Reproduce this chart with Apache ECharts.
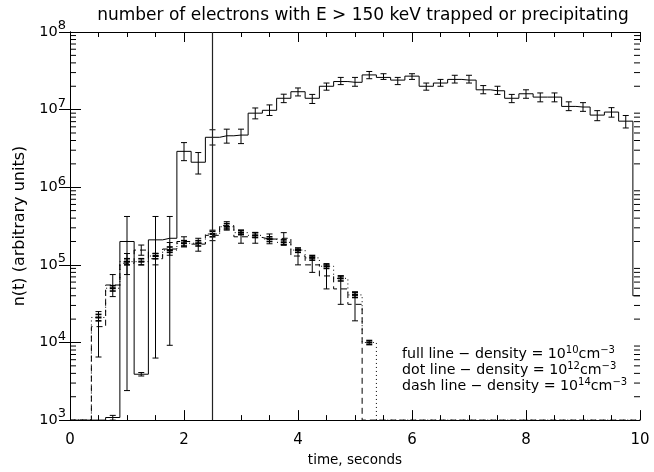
<!DOCTYPE html>
<html><head><meta charset="utf-8">
<script src="https://cdn.jsdelivr.net/npm/echarts@6/dist/echarts.min.js"></script>
<style>html,body{margin:0;padding:0;background:#fff}#c{width:654px;height:472px}</style>
</head><body><div id="c"></div>
<script>
// ---- data ----
const times = [0,0.25,0.5,0.75,1,1.25,1.5,1.75,2,2.25,2.5,2.75,3,3.25,3.5,3.75,4,4.25,4.5,4.75,5,5.25,5.5,5.75,6,6.25,6.5,6.75,7,7.25,7.5,7.75,8,8.25,8.5,8.75,9,9.25,9.5,9.75,10];
const fullValues = [1000,1000,1000,1080,2.0e5,3.9e3,2.1e5,2.2e5,2.9e6,2.1e6,4.4e6,4.6e6,4.7e6,9.0e6,9.8e6,1.4e7,1.7e7,1.4e7,2.0e7,2.3e7,2.25e7,2.8e7,2.6e7,2.4e7,2.7e7,2.0e7,2.2e7,2.45e7,2.4e7,1.8e7,1.75e7,1.4e7,1.6e7,1.45e7,1.45e7,1.1e7,1.08e7,8.5e6,9.3e6,7.1e6,4.0e4];
const fullErrLow  = [null,null,null,1000,2.4e3,3.7e3,6.3e3,9.2e3,2.2e6,1.48e6,3.5e6,3.7e6,3.65e6,7.6e6,8.4e6,1.23e7,1.5e7,1.2e7,1.78e7,2.1e7,2.0e7,2.5e7,2.45e7,2.1e7,2.45e7,1.78e7,2.0e7,2.2e7,2.2e7,1.6e7,1.57e7,1.23e7,1.4e7,1.26e7,1.26e7,9.7e6,9.5e6,7.2e6,8.0e6,5.8e6,null];
const fullErrHigh = [null,null,null,1150,4.2e5,4.1e3,4.2e5,4.2e5,3.76e6,2.8e6,5.5e6,5.6e6,5.6e6,1.05e7,1.15e7,1.58e7,1.9e7,1.57e7,2.2e7,2.6e7,2.6e7,3.1e7,2.9e7,2.6e7,2.9e7,2.2e7,2.45e7,2.77e7,2.77e7,2.04e7,2.0e7,1.57e7,1.8e7,1.64e7,1.64e7,1.26e7,1.23e7,9.7e6,1.06e7,8.4e6,null];

const dotValues = [1000,1000,2.1e4,5.0e4,1.1e5,1.1e5,1.3e5,1.55e5,1.9e5,1.9e5,2.5e5,3.1e5,2.6e5,2.4e5,2.15e5,1.95e5,1.55e5,1.23e5,9.6e4,6.7e4,4.1e4,1.0e4,1000,1000,1000,1000,1000,1000,1000,1000,1000,1000,1000,1000,1000,1000,1000,1000,1000,1000,1000];
const dotErrLow  = [null,null,1.9e4,4.6e4,1.0e5,1.0e5,1.2e5,1.45e5,1.75e5,1.75e5,2.3e5,2.9e5,2.45e5,2.25e5,2.0e5,1.8e5,1.45e5,1.15e5,9.0e4,6.2e4,3.8e4,9.4e3,null,null,null,null,null,null,null,null,null,null,null,null,null,null,null,null,null,null,null];
const dotErrHigh = [null,null,2.3e4,5.4e4,1.2e5,1.2e5,1.4e5,1.7e5,2.05e5,2.05e5,2.7e5,3.4e5,2.8e5,2.6e5,2.3e5,2.1e5,1.65e5,1.32e5,1.03e5,7.2e4,4.4e4,1.06e4,null,null,null,null,null,null,null,null,null,null,null,null,null,null,null,null,null,null,null];

const dashValues = [1000,1000,1.6e4,5.5e4,1.05e5,1.55e5,1.2e5,1.6e5,2.0e5,1.85e5,2.4e5,3.2e5,2.3e5,2.25e5,2.15e5,2.2e5,1.3e5,1.0e5,7.2e4,4.9e4,3.1e4,1000,1000,1000,1000,1000,1000,1000,1000,1000,1000,1000,1000,1000,1000,1000,1000,1000,1000,1000,1000];
const dashErrLow  = [null,null,6.5e3,3.9e4,7.5e4,1.33e5,1.0e5,1.33e5,1.7e5,1.5e5,2.05e5,2.8e5,1.9e5,1.9e5,1.87e5,1.83e5,1.0e5,8.0e4,4.9e4,3.1e4,1.9e4,null,null,null,null,null,null,null,null,null,null,null,null,null,null,null,null,null,null,null,null];
const dashErrHigh = [null,null,2.5e4,7.5e4,1.4e5,1.8e5,1.4e5,1.94e5,2.3e5,2.2e5,2.8e5,3.6e5,2.75e5,2.6e5,2.5e5,2.6e5,1.57e5,1.27e5,1.0e5,7.2e4,4.5e4,null,null,null,null,null,null,null,null,null,null,null,null,null,null,null,null,null,null,null,null];

const markerTime = 2.5;
const yMin = 1e3, yMax = 1e8;
const xMin = 0, xMax = 10, xStep = 2;
const titleText = 'number of electrons with E > 150 keV trapped or precipitating';
const xName = 'time, seconds';
const yName = 'n(t) (arbitrary units)';
const legendLines = [
  ['full line − density = 10', '10', 'cm', '−3'],
  ['dot line − density = 10', '12', 'cm', '−3'],
  ['dash line − density = 10', '14', 'cm', '−3']
];

// ---- helpers ----
const FONT = 'DejaVu Sans';
function pairs(vals){ return times.map((t,i)=>[t, vals[i]]); }
function errData(vals, lo, hi){
  const out=[];
  times.forEach((t,i)=>{ if(lo[i]!=null && hi[i]!=null) out.push([t, lo[i], hi[i], vals[i]]); });
  return out;
}
const minorVals=[];
for(let e=3;e<8;e++){ for(let m=2;m<=9;m++){ minorVals.push([0, m*Math.pow(10,e)]); } }

function errRender(cap, mark){
  return function(params, api){
    const x=api.value(0);
    const pLo=api.coord([x, api.value(1)]);
    const pHi=api.coord([x, api.value(2)]);
    const st={stroke:'#000', lineWidth:1};
    const ch=[
      {type:'line', shape:{x1:pLo[0],y1:pLo[1],x2:pHi[0],y2:pHi[1]}, style:st},
      {type:'line', shape:{x1:pLo[0]-cap,y1:pLo[1],x2:pLo[0]+cap,y2:pLo[1]}, style:{stroke:'#000',lineWidth:mark?1.6:1}},
      {type:'line', shape:{x1:pHi[0]-cap,y1:pHi[1],x2:pHi[0]+cap,y2:pHi[1]}, style:{stroke:'#000',lineWidth:mark?1.6:1}}
    ];
    if(mark){
      const pm=api.coord([x, api.value(3)]);
      ch.push({type:'line', shape:{x1:pm[0]-cap,y1:pm[1],x2:pm[0]+cap,y2:pm[1]}, style:{stroke:'#000',lineWidth:2}});
    }
    return {type:'group', children:ch};
  };
}
function minorRender(params, api){
  const cs=params.coordSys;
  const p=api.coord([0, api.value(1)]);
  const L=6;
  return {type:'group', children:[
    {type:'line', shape:{x1:cs.x, y1:p[1], x2:cs.x+L, y2:p[1]}, style:{stroke:'#000', lineWidth:1}},
    {type:'line', shape:{x1:cs.x+cs.width-L, y1:p[1], x2:cs.x+cs.width, y2:p[1]}, style:{stroke:'#000', lineWidth:1}}
  ]};
}

const axisLineStyle={show:true, lineStyle:{color:'#000', width:1}};
const xAxisBase={type:'value', min:xMin, max:xMax, interval:xStep,
  axisLine:axisLineStyle, splitLine:{show:false},
  axisTick:{show:true, inside:true, length:10, lineStyle:{color:'#000'}},
  minorTick:{show:true, splitNumber:4, length:5, lineStyle:{color:'#000'}}};
const yAxisBase={type:'log', logBase:10, min:yMin, max:yMax,
  axisLine:axisLineStyle, splitLine:{show:false},
  axisTick:{show:true, inside:true, length:11, lineStyle:{color:'#000'}}};

const chart=echarts.init(document.getElementById('c'), null, {renderer:'canvas'});
chart.setOption({
  animation:false,
  backgroundColor:'#fff',
  title:{text:titleText, left:358, top:2, textAlign:'center',
    textStyle:{fontFamily:FONT, fontSize:17, fontWeight:'normal', color:'#000'}},
  grid:{left:70, right:14, top:32, bottom:42},
  xAxis:[
    Object.assign({}, xAxisBase, {position:'bottom', name:xName, nameLocation:'middle', nameGap:29,
      nameTextStyle:{fontFamily:FONT, fontSize:13.5, color:'#000'},
      axisLabel:{show:true, margin:13, color:'#000', fontFamily:FONT, fontSize:15, formatter:v=>String(v)}}),
    Object.assign({}, xAxisBase, {position:'top', axisLabel:{show:false}})
  ],
  yAxis:[
    Object.assign({}, yAxisBase, {position:'left', name:yName, nameLocation:'middle', nameGap:42,
      nameTextStyle:{fontFamily:FONT, fontSize:16, color:'#000'},
      axisLabel:{show:true, margin:4, color:'#000',
        formatter:v=>'{b|10}{e|'+Math.round(Math.log10(v))+'}',
        rich:{b:{fontFamily:FONT, fontSize:14.5, color:'#000'}, e:{fontFamily:FONT, fontSize:13, color:'#000', padding:[0,0,12,0]}}}}),
    Object.assign({}, yAxisBase, {position:'right', axisLabel:{show:false}})
  ],
  series:[
    {type:'line', name:'full', step:'middle', data:pairs(fullValues), showSymbol:false, symbol:'none',
      lineStyle:{color:'#000', width:1, type:'solid'}, z:3,
      markLine:{silent:true, symbol:['none','none'], label:{show:false},
        lineStyle:{color:'#222', width:1.2, type:'solid'}, data:[{xAxis:markerTime}]}},
    {type:'line', name:'dot', step:'middle', data:pairs(dotValues), showSymbol:false, symbol:'none',
      lineStyle:{color:'#000', width:1, type:[1,3]}, z:3},
    {type:'line', name:'dash', step:'middle', data:pairs(dashValues), showSymbol:false, symbol:'none',
      lineStyle:{color:'#000', width:1, type:[6,4]}, z:3},
    {type:'custom', name:'fullErr', renderItem:errRender(3,false), data:errData(fullValues, fullErrLow, fullErrHigh),
      encode:{x:0, y:[1,2]}, z:4, silent:true},
    {type:'custom', name:'dotErr', renderItem:errRender(3,true), data:errData(dotValues, dotErrLow, dotErrHigh),
      encode:{x:0, y:[1,2]}, z:4, silent:true},
    {type:'custom', name:'dashErr', renderItem:errRender(3,false), data:errData(dashValues, dashErrLow, dashErrHigh),
      encode:{x:0, y:[1,2]}, z:4, silent:true},
    {type:'custom', name:'minorTicks', renderItem:minorRender, data:minorVals, encode:{x:0, y:1}, z:5, silent:true}
  ],
  graphic: legendLines.map((ln,i)=>({
    type:'text', left:402, top:345+i*16, silent:true,
    style:{text:'{a|'+ln[0]+'}{s|'+ln[1]+'}{a|'+ln[2]+'}{s|'+ln[3]+'}',
      rich:{a:{fontFamily:FONT, fontSize:14.2, color:'#000'}, s:{fontFamily:FONT, fontSize:10, color:'#000', padding:[0,0,9,0]}}}
  }))
});
</script></body></html>
